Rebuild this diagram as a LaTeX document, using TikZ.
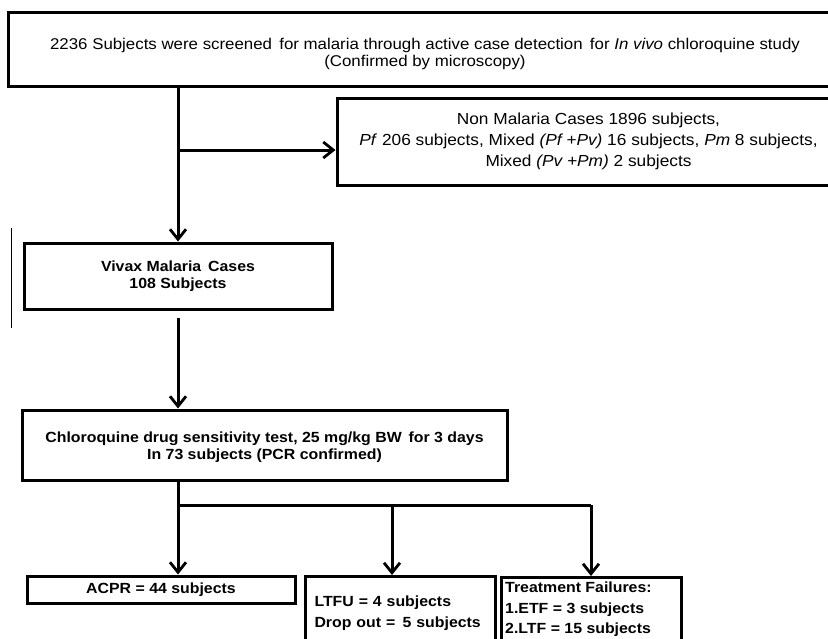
\documentclass[tikz,border=0pt]{standalone}
\usepackage{fontspec}
\setmainfont[FakeStretch=1.08]{Liberation Sans}
\usetikzlibrary{arrows.meta,calc}
\tikzset{
  box/.style={draw=black, line width=3pt, fill=white, inner sep=0pt, align=center},
  txt/.style={inner sep=0pt, align=center},
  conn/.style={line width=3pt, draw=black},
  arr/.style={conn, -{Straight Barb[length=10pt,width=16pt,line width=2.8pt]}},
  tfont/.style={font=\fontsize{15.6}{17}\selectfont},
  nfont/.style={font=\fontsize{16}{21}\selectfont},
  bfont/.style={font=\bfseries\fontsize{14.7}{17.5}\selectfont},
  lfont/.style={font=\bfseries\fontsize{14.7}{21.5}\selectfont},
}
\begin{document}
\begin{tikzpicture}[x=1pt,y=-1pt]
\useasboundingbox (0,0) rectangle (828,638);
\clip (0,0) rectangle (828,638);
\fill[white] (0,0) rectangle (828,638);

\node[box, minimum width=834pt, minimum height=74pt] (top) at (425,49) {};
\node[txt, tfont] (toptext) at (425,53.5)
  {2236 Subjects were screened\, for malaria through active case detection\, for \textit{In vivo} chloroquine study\\(Confirmed by microscopy)};

\node[box, nfont, minimum width=503pt, minimum height=87pt] (nonmal) at (588.5,141.5)
  {Non Malaria Cases 1896 subjects,\\\textit{Pf} 206 subjects, Mixed \textit{(Pf +Pv)} 16 subjects, \textit{Pm} 8 subjects,\\Mixed \textit{(Pv +Pm)} 2 subjects};

\node[box, bfont, minimum width=308pt, minimum height=66pt] (vivax) at (178,276)
  {Vivax Malaria\, Cases\\108 Subjects};

\node[box, minimum width=485pt, minimum height=70pt] (chloro) at (264.5,445) {};
\node[txt, bfont] (chlorotext) at (264.5,447)
  {Chloroquine drug sensitivity test, 25 mg/kg BW\, for 3 days\\In 73 subjects (PCR confirmed)};

\node[box, bfont, minimum width=268pt, minimum height=27pt] (acpr) at (161,589.5)
  {ACPR = 44 subjects};

\node[box, lfont, anchor=north west, minimum width=190pt, minimum height=73pt,
      text width=172pt, align=left, inner xsep=9pt] (ltfu) at (304,575)
  {LTFU = 4 subjects\\Drop out =\, 5 subjects};

\node[box, anchor=north west, minimum width=180pt, minimum height=73pt] (tf) at (500,576) {};
\node[txt, font=\bfseries\fontsize{14.7}{20.5}\selectfont, align=left, anchor=north west] (tftext) at (505,582)
  {Treatment Failures:\\1.ETF = 3 subjects\\2.LTF = 15 subjects};

% stray thin line
\coordinate (s1) at (11,228);
\coordinate (s2) at (11,328);
\draw[line width=1pt] (s1) -- (s2);

% connectors
\coordinate (b1) at (178,150);
\draw[arr] (top.south -| vivax.north) -- (vivax.north);
\draw[arr] (b1) -- (b1 -| nonmal.west);
\coordinate (v1) at ($(vivax.south)+(0,7)$);
\draw[arr] (v1) -- (v1 |- chloro.north);
\coordinate (bus1) at (178,505);
\coordinate (bus2) at (392,505);
\coordinate (bus3) at (591,505);
\draw[conn] (chloro.south -| bus1) -- (bus1) -- (bus3);
\draw[arr] (bus1) -- (bus1 |- acpr.north);
\draw[arr] (bus2) -- (bus2 |- ltfu.north);
\draw[arr] (bus3) -- (bus3 |- tf.north);
\end{tikzpicture}
\end{document}
